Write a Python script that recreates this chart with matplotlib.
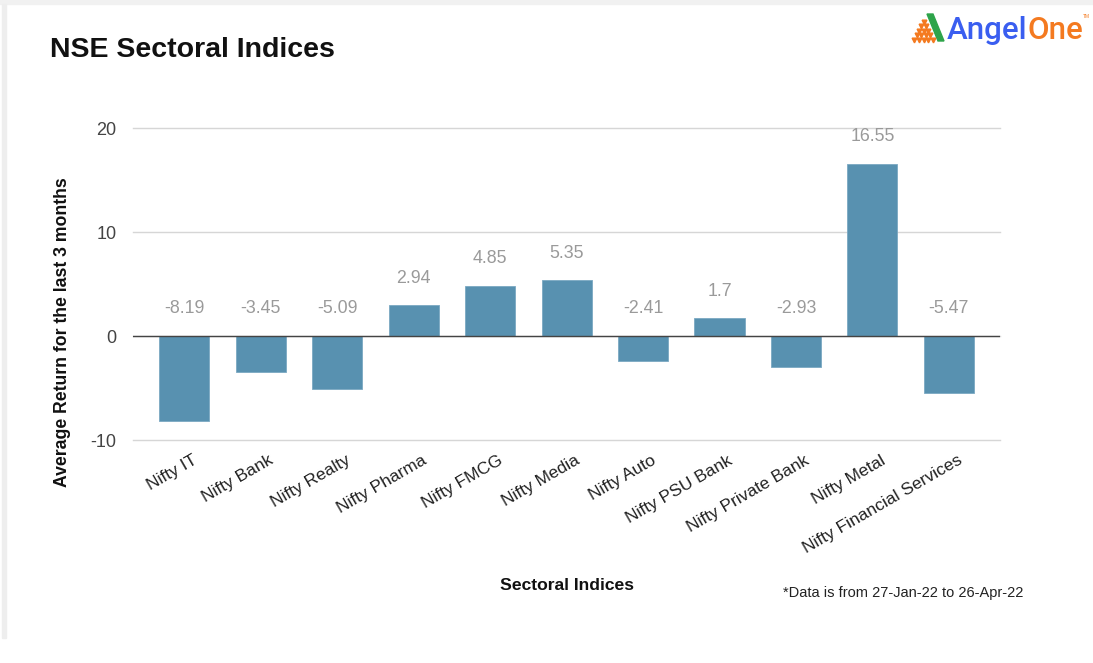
import matplotlib.pyplot as plt
from matplotlib.patches import Polygon, Rectangle
from matplotlib.transforms import ScaledTranslation

plt.rcParams['font.family'] = ['Liberation Sans', 'DejaVu Sans']

# Data
sectors = ['Nifty IT', 'Nifty Bank', 'Nifty Realty', 'Nifty Pharma', 'Nifty FMCG',
           'Nifty Media', 'Nifty Auto', 'Nifty PSU Bank', 'Nifty Private Bank',
           'Nifty Metal', 'Nifty Financial Services']
returns = [-8.19, -3.45, -5.09, 2.94, 4.85, 5.35, -2.41, 1.7, -2.93, 16.55, -5.47]
value_labels = ['-8.19', '-3.45', '-5.09', '2.94', '4.85', '5.35', '-2.41', '1.7',
                '-2.93', '16.55', '-5.47']
y_ticks = [-10, 0, 10, 20]

bar_color = '#5891b0'
label_color = '#9a9a9a'

W, H = 1093, 663
fig = plt.figure(figsize=(W / 100, H / 100), dpi=100)
ax = fig.add_axes([0.1217, 0.3363, 0.7933, 0.4706])

x = range(len(sectors))
ax.bar(x, returns, width=0.655, color=bar_color, edgecolor='#7aa8c2', linewidth=0.6, zorder=3)

# value labels: above bar top for positive values, above the zero line for negatives
for i, (v, txt) in enumerate(zip(returns, value_labels)):
    base = max(v, 0)
    ax.annotate(txt, (i, base), xytext=(0, 19.5), textcoords='offset points',
                ha='center', va='center', fontsize=12.8, color=label_color)

ax.set_xlim(-0.67, len(sectors) - 1 + 0.67)
ax.set_ylim(-10, 20)
ax.set_yticks(y_ticks)
ax.set_yticklabels([str(t) for t in y_ticks], fontsize=13, color='#444444')
ax.tick_params(axis='y', length=0, pad=12)
ax.tick_params(axis='x', length=0, pad=9)
ax.set_xticks(list(x))
ax.set_xticklabels(sectors, rotation=30, ha='right', va='top', rotation_mode='anchor',
                   fontsize=12.5, color='#222222')
shift = ScaledTranslation(8 / 100, 0, fig.dpi_scale_trans)
for lbl in ax.get_xticklabels():
    lbl.set_transform(lbl.get_transform() + shift)

ax.grid(axis='y', color='#d6d6d6', linewidth=1, zorder=0)
for gl in ax.get_ygridlines():
    gl.set_clip_on(False)
ax.axhline(0, color='#444444', linewidth=1, zorder=4)
for s in ax.spines.values():
    s.set_visible(False)

ax.set_ylabel('Average Return for the last 3 months', fontsize=12.7, fontweight='bold',
              color='#111111')
ax.yaxis.set_label_coords(-0.0715, 0.345)

fig.text(50 / W, 1 - 50 / H, 'NSE Sectoral Indices', fontsize=20.5, fontweight='bold',
         color='#111111', va='center')
fig.text(567 / W, 1 - 585 / H, 'Sectoral Indices', fontsize=12.6, fontweight='bold',
         color='#111111', ha='center', va='center')
fig.text(783 / W, 1 - 593 / H, '*Data is from 27-Jan-22 to 26-Apr-22', fontsize=10.5,
         color='#222222', va='center')

# logo
logo_font = dict(fontsize=22.5, va='baseline', family=['Roboto', 'DejaVu Sans'],
                 fontweight='medium')
angel = fig.text(947 / W, 1 - 39 / H, 'Angel', color='#3a5ef0', **logo_font)
fig.canvas.draw()
bb = angel.get_window_extent()
one = fig.text(bb.x1 / W, 1 - 39 / H, 'One', color='#f47a20', **logo_font)
fig.canvas.draw()
bb2 = one.get_window_extent()
fig.text(bb2.x1 / W, 1 - 17 / H, 'TM', fontsize=3.5, color='#f47a20', va='center')


def fp(px, py):
    return [px / W, 1 - py / H]


fig.patches.append(Polygon([fp(927, 14), fp(933, 14), fp(944, 41), fp(938, 41)], closed=True,
                           transform=fig.transFigure, color='#2ea44a'))
# dotted pyramid
dots_x, dots_y = [], []
for row in range(5):
    for k in range(row + 1):
        dots_x.append((923.5 - row * 2.3 + k * 4.6) / W)
        dots_y.append(1 - (22 + row * 4.4) / H)
fig.add_artist(plt.Line2D(dots_x, dots_y, transform=fig.transFigure, linestyle='none',
                          marker='v', markersize=3.4, color='#f47a20'))

# faint screenshot edges
fig.patches.append(Rectangle((0, 1 - 4 / H), 1, 4 / H, transform=fig.transFigure,
                             color='#f1f1f1'))
fig.patches.append(Rectangle((2 / W, 1 - 638 / H), 4 / W, 634 / H, transform=fig.transFigure,
                             color='#eeeeee'))

fig.savefig('out.png', dpi=100, facecolor='white')
